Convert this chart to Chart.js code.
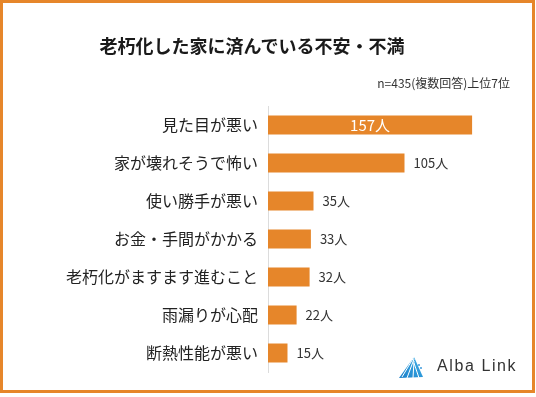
<!DOCTYPE html>
<html>
<head>
<meta charset="utf-8">
<script src="https://cdn.jsdelivr.net/npm/chart.js@4.4.0/dist/chart.umd.min.js"></script>
<style>
  html, body { margin: 0; padding: 0; background: #fff; }
  body { width: 536px; height: 397px; position: relative; overflow: hidden; font-family: "Noto Sans CJK JP", sans-serif; }
  #frame { position: absolute; left: 0; top: 0; width: 535px; height: 393px; box-sizing: border-box; border: 3px solid #E6862A; }
  #chart { position: absolute; left: 0; top: 0; }
  #title { position: absolute; left: 0; width: 504px; top: 32px; text-align: center; font-size: 18px; font-weight: bold; color: #1a1a1a; line-height: 26px; }
  #note { position: absolute; right: 26px; top: 75px; font-size: 12px; color: #333; line-height: 16px; }
  #logo { position: absolute; left: 398px; top: 356px; height: 24px; }
  #logo span { position: absolute; left: 39px; top: 1px; font-family: "Liberation Sans", sans-serif; font-size: 16px; letter-spacing: 1.6px; color: #333; white-space: nowrap; }
</style>
</head>
<body>
<div id="frame"></div>
<canvas id="chart" width="536" height="397"></canvas>
<div id="title">老朽化した家に済んでいる不安・不満</div>
<div id="note">n=435(複数回答)上位7位</div>
<div id="logo">
  <svg width="28" height="24" viewBox="0 0 28 24">
    <defs>
      <linearGradient id="g" x1="0" y1="1" x2="1" y2="0">
        <stop offset="0" stop-color="#1a7fc9"/>
        <stop offset="1" stop-color="#3fb0e8"/>
      </linearGradient>
    </defs>
    <polygon points="1,22 16,1 25,21" fill="url(#g)"/>
    <line x1="16" y1="1" x2="4" y2="21" stroke="#fff" stroke-width="1"/>
    <line x1="16" y1="3" x2="9" y2="22" stroke="#fff" stroke-width="1"/>
    <line x1="16" y1="5" x2="15" y2="22" stroke="#fff" stroke-width="1"/>
    <line x1="16" y1="7" x2="21" y2="22" stroke="#fff" stroke-width="1"/>
    <circle cx="21" cy="9" r="0.9" fill="#2a90d8"/>
    <circle cx="23" cy="12" r="0.9" fill="#2a90d8"/>
  </svg>
  <span>Alba Link</span>
</div>
<script>
// 老朽化した家に済んでいる不安・不満 (n=435, 上位7位)
const categories = ['見た目が悪い', '家が壊れそうで怖い', '使い勝手が悪い', 'お金・手間がかかる', '老朽化がますます進むこと', '雨漏りが心配', '断熱性能が悪い'];
const counts = [157, 105, 35, 33, 32, 22, 15];
const unit = '人';

const barColor = '#E6862A';

// value labels: first bar inside in white, others just after the bar
const valueLabels = {
    id: 'valueLabels',
    afterDatasetsDraw(chart) {
        const ctx = chart.ctx;
        const meta = chart.getDatasetMeta(0);
        ctx.save();
        ctx.textBaseline = 'middle';
        meta.data.forEach((bar, i) => {
            const text = counts[i] + unit;
            if (i === 0) {
                ctx.font = '15px "Noto Sans CJK JP"';
                ctx.fillStyle = '#fff';
                ctx.textAlign = 'center';
                ctx.fillText(text, (bar.x + bar.base) / 2, bar.y);
            } else {
                ctx.font = '13px "Noto Sans CJK JP"';
                ctx.fillStyle = '#333';
                ctx.textAlign = 'left';
                ctx.fillText(text, bar.x + 9, bar.y);
            }
        });
        ctx.restore();
    }
};

const ctx = document.getElementById('chart').getContext('2d');
const chart = new Chart(ctx, {
    type: 'bar',
    data: {
        labels: categories,
        datasets: [{
            data: counts,
            backgroundColor: barColor,
            borderWidth: 0,
            barPercentage: 0.5,
            categoryPercentage: 1.0
        }]
    },
    options: {
        indexAxis: 'y',
        responsive: false,
        animation: false,
        layout: { padding: { top: 106, bottom: 25, right: 8, left: 0 } },
        plugins: {
            legend: { display: false },
            tooltip: { enabled: false }
        },
        scales: {
            x: {
                display: false,
                min: 0,
                max: 200
            },
            y: {
                afterFit(scale) { scale.width = 268; },
                grid: { display: false, drawTicks: false },
                border: { display: true, color: '#dcdcdc', width: 1 },
                ticks: {
                    padding: 10,
                    color: '#222',
                    font: { family: '"Noto Sans CJK JP"', size: 16 }
                }
            }
        }
    },
    plugins: [valueLabels]
});
</script>
</body>
</html>
